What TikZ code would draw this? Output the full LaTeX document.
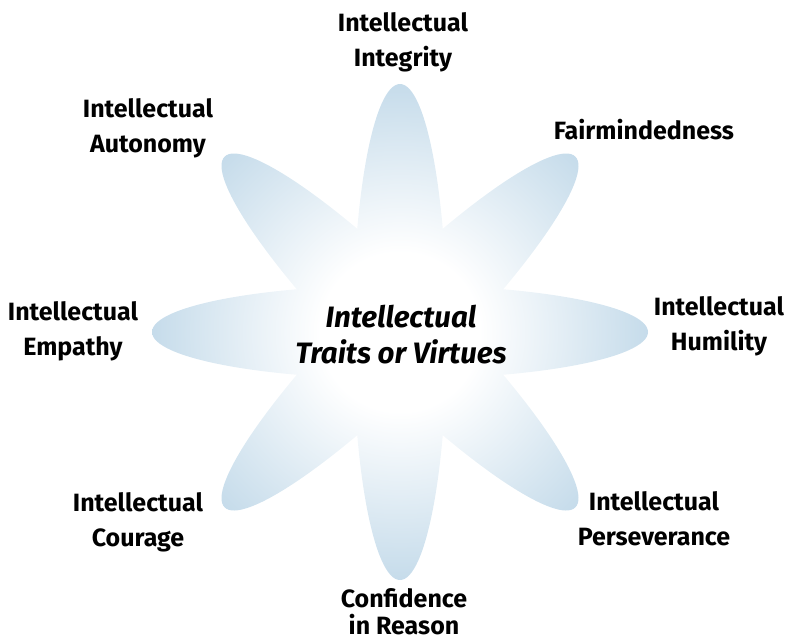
\documentclass[tikz,border=0pt]{standalone}
\usepackage{fontspec}
\setmainfont{Fira Sans}
\definecolor{petalblue}{HTML}{AECDE2}
\pgfdeclareradialshading{petalshade}{\pgfpoint{0bp}{0bp}}{color(0bp)=(white);color(8bp)=(white);color(32bp)=(petalblue);color(50bp)=(petalblue)}
\tikzset{
  lbl/.style={align=center, font=\bfseries\fontsize{25}{35}\selectfont, inner sep=0pt},
  ctr/.style={align=center, font=\bfseries\itshape\fontsize{29.5}{36}\selectfont, inner sep=0pt}
}
\begin{document}
\begin{tikzpicture}[x=1pt,y=-1pt]
\useasboundingbox (0,0) rectangle (785,641);
\coordinate (c) at (400,332);
\shade[shading=petalshade]
  (c) ellipse [x radius=248, y radius=47]
  (c) ellipse [x radius=47, y radius=248]
  (c) ellipse [x radius=248, y radius=47, rotate=45]
  (c) ellipse [x radius=248, y radius=47, rotate=-45];
\node[ctr] (center) at (401,335) {Intellectual\\Traits or Virtues};
\node[lbl] (integrity) at (403,42) {Intellectual\\Integrity};
\node[lbl] (autonomy) at (148,128) {Intellectual\\Autonomy};
\node[lbl] (fair) at (644,130) {Fairmindedness};
\node[lbl] (humility) at (719,326) {Intellectual\\Humility};
\node[lbl] (empathy) at (73,331) {Intellectual\\Empathy};
\node[lbl] (courage) at (138,522) {Intellectual\\Courage};
\node[lbl] (perseverance) at (654,519) {Intellectual\\Perseverance};
\node[lbl, font=\bfseries\fontsize{25}{27}\selectfont] (confidence) at (404,612) {Confidence\\in Reason};
\end{tikzpicture}
\end{document}
